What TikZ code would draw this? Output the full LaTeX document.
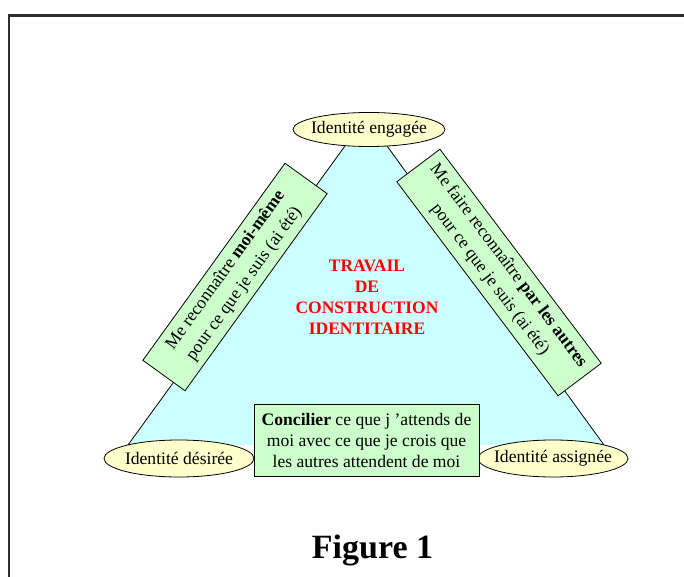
\documentclass[tikz,border=0pt]{standalone}
\usepackage{fontspec}
\setmainfont{Liberation Serif}
\definecolor{tricyan}{HTML}{CCFFFF}
\definecolor{boxgreen}{HTML}{CCFFCC}
\definecolor{ellyellow}{HTML}{FFFFCC}
\definecolor{framegray}{HTML}{2E2E2E}
\begin{document}
\begin{tikzpicture}[x=1pt,y=-1pt,
  txt/.style={font=\fontsize{17.6}{21}\selectfont},
  rtxt/.style={font=\fontsize{17.6}{23}\selectfont},
  idtext/.style={inner sep=0pt, txt},
  ellfill/.style={draw=black, line width=0.8pt, fill=ellyellow},
  greenbox/.style={draw=black, line width=0.8pt, fill=boxgreen, align=center, inner sep=0pt, txt},
  redtitle/.style={text=red, align=center, font=\bfseries\fontsize{17.5}{21}\selectfont},
  trifill/.style={fill=tricyan},
  triedge/.style={draw=black, line width=0.8pt}
]
\useasboundingbox (0,0) rectangle (684,577);
\fill[white] (0,0) rectangle (684,577);
\draw[framegray, line width=2.5pt] (9,577) -- (9,15.5) -- (684,15.5);
% triangle
\coordinate (apex) at (366,117);
\coordinate (bl) at (128,445);
\coordinate (br) at (604,445);
\fill[trifill] (apex) -- (bl) -- (br) -- cycle;
\draw[triedge] (bl) -- (apex) -- (br);
% ellipses
\coordinate (engc) at (369,129.5);
\coordinate (desc) at (179,458.5);
\coordinate (assc) at (553,458.5);
\draw[ellfill] (engc) ellipse [x radius=76, y radius=17];
\draw[ellfill] (desc) ellipse [x radius=75, y radius=18.5];
\draw[ellfill] (assc) ellipse [x radius=75, y radius=18.5];
\node[idtext] (eng) at (engc) {Identité engagée};
\node[idtext] (des) at (desc) {Identité désirée};
\node[idtext] (ass) at (assc) {Identité assignée};
% boxes
\node[greenbox, minimum width=225pt, minimum height=72pt] (conc) at (366.5,440) {\textbf{Concilier} ce que j 'attends de\\moi avec ce que je crois que\\les autres attendent de moi};
\node[greenbox, rtxt, rotate=54.2, minimum width=243pt, minimum height=52pt] (moi) at (235,277) {Me reconnaître \textbf{moi-même}\\pour ce que je suis (ai été)};
\node[greenbox, rtxt, rotate=-53, minimum width=268pt, minimum height=54pt] (autres) at (499,272.5) {Me faire reconnaître \textbf{par les autres}\\pour ce que je suis (ai été)};
\node[redtitle] (travail) at (367,297) {TRAVAIL\\DE\\CONSTRUCTION\\IDENTITAIRE};
\node[anchor=base, font=\bfseries\fontsize{34}{40}\selectfont] (fig) at (372.5,558) {Figure 1};
\end{tikzpicture}
\end{document}
